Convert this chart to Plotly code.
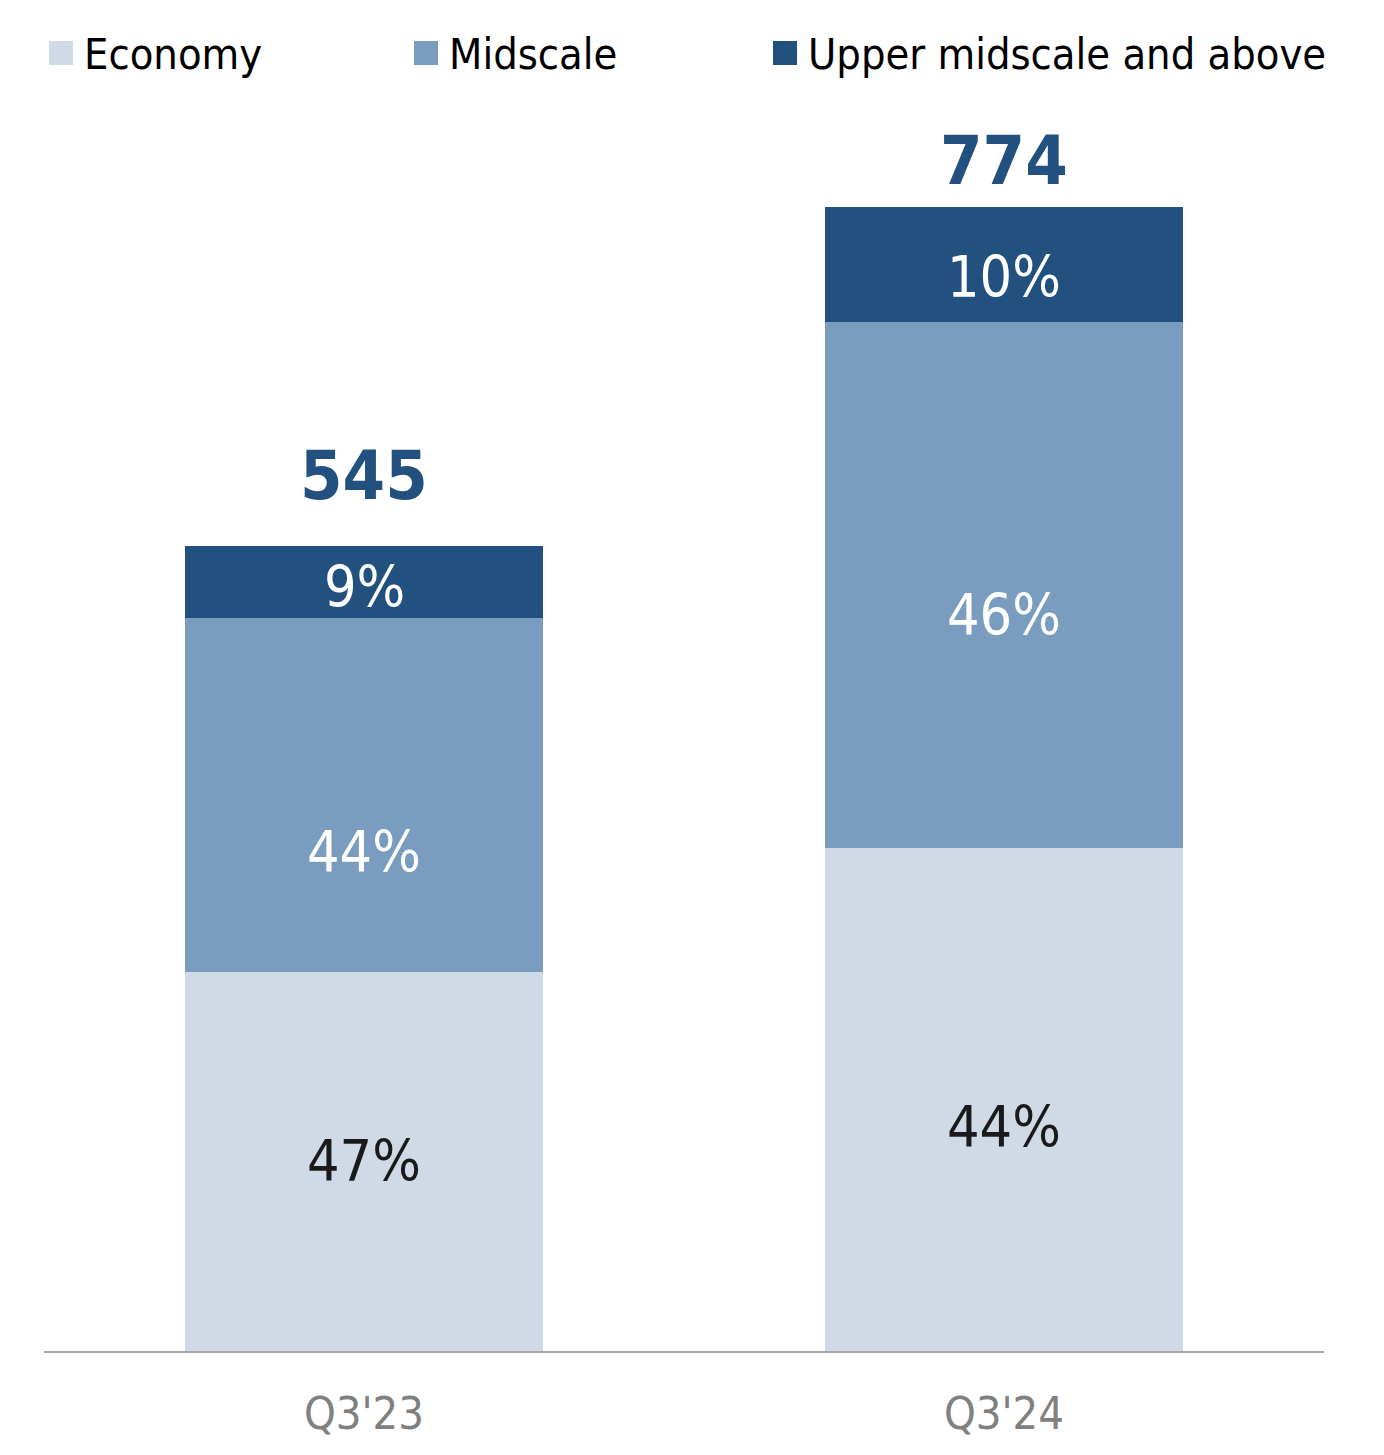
import plotly.graph_objects as go

# Data
quarters = ["Q3'23", "Q3'24"]
totals = [545, 774]
segments = ["Economy", "Midscale", "Upper midscale and above"]
economy_pct = [47, 44]
midscale_pct = [44, 46]
upper_pct = [9, 10]

# Styling
colors = ["#CFDAE6", "#7A9CBF", "#22517F"]
label_colors = ["#1A1A1A", "#FFFFFF", "#FFFFFF"]
FONT = "DejaVu Sans Condensed, Roboto, sans-serif"
label_yshift = [[1, -28], [-57, -30], [-5, -13]]   # px nudges per segment / bar
total_yshift = [29, 5]

pct_series = [economy_pct, midscale_pct, upper_pct]

fig = go.Figure()
for name, pcts, col in zip(segments, pct_series, colors):
    vals = [t * p / 100 for t, p in zip(totals, pcts)]
    fig.add_trace(go.Bar(
        x=quarters, y=vals, name=name, marker=dict(color=col, line=dict(width=0)),
        showlegend=False, hoverinfo="skip",
    ))

annotations = []
# Percentage labels centred on each segment
for i, q in enumerate(quarters):
    base = 0.0
    for s, pcts in enumerate(pct_series):
        v = totals[i] * pcts[i] / 100
        annotations.append(dict(
            x=q, y=base + v / 2, xref="x", yref="y", text=f"{pcts[i]}%",
            showarrow=False, yanchor="middle", yshift=label_yshift[s][i],
            font=dict(family=FONT, size=57, color=label_colors[s]),
        ))
        base += v
    annotations.append(dict(
        x=q, y=totals[i], xref="x", yref="y", text=f"<b>{totals[i]}</b>",
        showarrow=False, yanchor="bottom", yshift=total_yshift[i],
        font=dict(family=FONT, size=68, color="#22517F"),
    ))

# Custom legend row
legend_x = [49, 414, 773]
shapes = []
for lx, name, col in zip(legend_x, segments, colors):
    shapes.append(dict(type="rect", xref="paper", yref="paper",
                       x0=(lx - 44) / 1280, x1=(lx - 44 + 24) / 1280,
                       y0=(1351 - 65) / 1251, y1=(1351 - 41) / 1251,
                       fillcolor=col, line=dict(width=0)))
    annotations.append(dict(
        x=(lx - 44 + 33) / 1280, y=(1351 - 54) / 1251, xref="paper", yref="paper",
        text=name, showarrow=False, xanchor="left", yanchor="middle",
        font=dict(family=FONT, size=43, color="#000000"),
    ))

fig.update_layout(
    width=1384, height=1455,
    margin=dict(l=44, r=60, t=100, b=104),
    paper_bgcolor="white", plot_bgcolor="white",
    barmode="stack", bargap=0.442,
    annotations=annotations, shapes=shapes,
    font=dict(family=FONT),
)
fig.update_xaxes(
    range=[-0.5, 1.5], showline=True, linecolor="#A6A6A6", linewidth=2,
    ticks="", tickfont=dict(family=FONT, size=45, color="#808080"),
    ticklabelstandoff=22,
    showgrid=False, zeroline=False,
)
fig.update_yaxes(range=[0, 846.6], visible=False, showgrid=False, zeroline=False)

fig.write_html("out.html")
